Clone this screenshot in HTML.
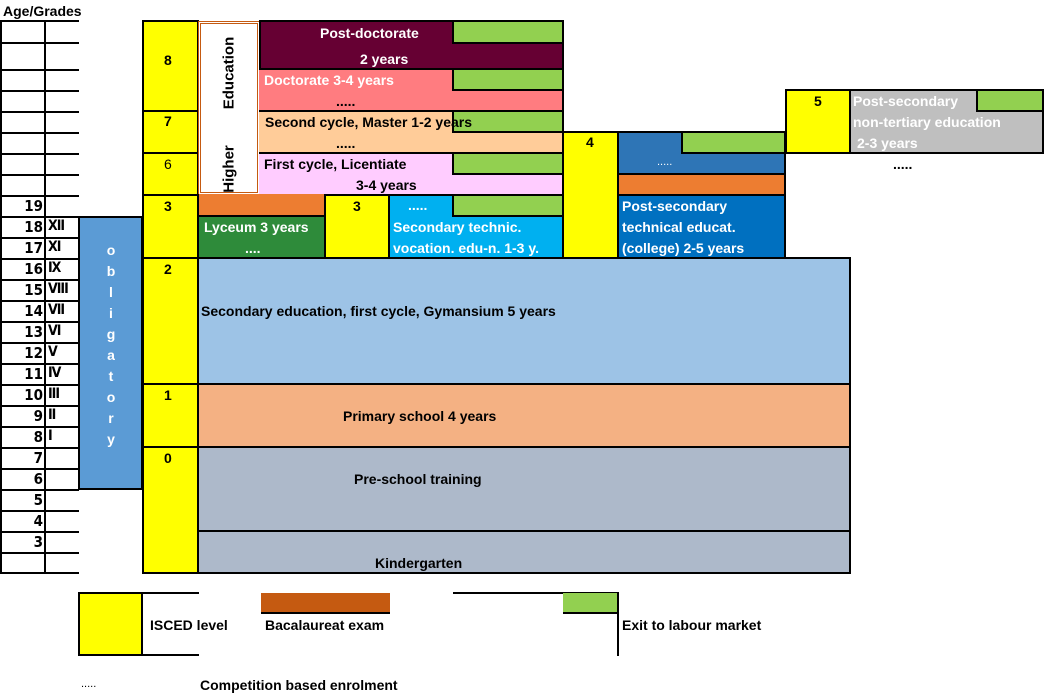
<!DOCTYPE html>
<html><head><meta charset="utf-8"><style>
body{margin:0;width:1044px;height:696px;position:relative;background:#fff;font-family:"Liberation Sans",Arial,sans-serif;font-weight:bold;font-size:14px;overflow:hidden}
.b{position:absolute;box-sizing:border-box;border:2px solid #000}
.t{position:absolute;white-space:nowrap}
.w{color:#fff}
.g{background:#92D050}
.y{background:#FFFF00}
.h{position:absolute;height:2px;background:#000}
.v{position:absolute;width:2px;background:#000}
.r{position:absolute;white-space:nowrap;transform:translate(-50%,-50%) rotate(-90deg);font-size:15px}
</style></head><body>
<div class="t" style="left:3px;top:3px;font-size:14px">Age/Grades</div>

<div class="v" style="left:0;top:20px;height:554px"></div>
<div class="v" style="left:44px;top:20px;height:554px"></div>
<div id="grid"></div>
<script>
var ys=[20,42,69,90,111,132,153,174,195,216,237,258,279,300,321,342,363,384,405,426,447,468,489,510,531,552,572];
var g='';
for(var i=0;i<ys.length;i++){g+='<div class="h" style="left:0;top:'+ys[i]+'px;width:79px"></div>';}
var ages={8:'19',9:'18',10:'17',11:'16',12:'15',13:'14',14:'13',15:'12',16:'11',17:'10',18:'9',19:'8',20:'7',21:'6',22:'5',23:'4',24:'3'};
var gr={9:'XII',10:'XI',11:'IX',12:'VIII',13:'VII',14:'VI',15:'V',16:'IV',17:'III',18:'II',19:'I'};
for(var k in ages){g+='<div class="t" style="right:1001px;top:'+(ys[k]+2)+'px;font-size:15px;font-family:\'DejaVu Sans Condensed\',sans-serif">'+ages[k]+'</div>';}
for(var k in gr){g+='<div class="t" style="left:48px;top:'+(ys[k]+2)+'px;font-size:14px;font-family:\'DejaVu Sans Condensed\',sans-serif;letter-spacing:-1px">'+gr[k]+'</div>';}
document.getElementById('grid').innerHTML=g;
</script>

<div class="b" style="left:78px;top:216px;width:65px;height:274px;background:#5B9BD5"></div>
<div class="t w" style="left:101px;top:240px;width:20px;text-align:center;line-height:21px">o<br>b<br>l<br>i<br>g<br>a<br>t<br>o<br>r<br>y</div>

<div class="b y" style="left:142px;top:20px;width:57px;height:92px"></div><div class="t" style="left:164px;top:52px">8</div>
<div class="b y" style="left:142px;top:110px;width:57px;height:44px"></div><div class="t" style="left:164px;top:113px">7</div>
<div class="b y" style="left:142px;top:152px;width:57px;height:44px"></div><div class="t" style="left:164px;top:156px;font-weight:normal">6</div>
<div class="b y" style="left:142px;top:194px;width:57px;height:65px"></div><div class="t" style="left:164px;top:198px">3</div>
<div class="b y" style="left:142px;top:257px;width:57px;height:128px"></div><div class="t" style="left:164px;top:261px">2</div>
<div class="b y" style="left:142px;top:383px;width:57px;height:65px"></div><div class="t" style="left:164px;top:387px">1</div>
<div class="b y" style="left:142px;top:446px;width:57px;height:128px"></div><div class="t" style="left:164px;top:450px">0</div>

<div style="position:absolute;left:198px;top:21px;width:62px;height:174px;box-sizing:border-box;border:3px double #C55A11;background:#fff"></div>
<div class="r" style="left:229px;top:73px">Education</div>
<div class="r" style="left:229px;top:169px">Higher</div>

<div class="b" style="left:259px;top:20px;width:305px;height:50px;background:#660033"></div>
<div class="b g" style="left:452px;top:20px;width:112px;height:24px"></div>
<div class="t w" style="left:320px;top:25px">Post-doctorate</div>
<div class="t w" style="left:360px;top:51px">2 years</div>

<div class="b" style="left:259px;top:68px;width:305px;height:44px;background:#FF7C80;border-left:none"></div>
<div class="b g" style="left:452px;top:68px;width:112px;height:23px"></div>
<div class="t w" style="left:264px;top:72px">Doctorate 3-4 years</div>
<div class="t" style="left:336px;top:93px">.....</div>

<div class="b" style="left:259px;top:110px;width:305px;height:44px;background:#FFCC99;border-left:none"></div>
<div class="b g" style="left:452px;top:110px;width:112px;height:23px"></div>
<div class="t" style="left:265px;top:114px">Second cycle, Master 1-2 years</div>
<div class="t" style="left:336px;top:135px">.....</div>

<div class="b" style="left:259px;top:152px;width:305px;height:44px;background:#FFCCFF;border-left:none"></div>
<div class="b g" style="left:452px;top:152px;width:112px;height:23px"></div>
<div class="t" style="left:264px;top:156px">First cycle, Licentiate</div>
<div class="t" style="left:356px;top:177px">3-4 years</div>

<div class="b" style="left:197px;top:194px;width:129px;height:23px;background:#ED7D31;border-top:none"></div>
<div class="b" style="left:197px;top:215px;width:129px;height:44px;background:#2E8B3A"></div>
<div class="t w" style="left:204px;top:219px">Lyceum 3 years</div>
<div class="t w" style="left:245px;top:240px">....</div>
<div class="b y" style="left:324px;top:194px;width:66px;height:65px"></div><div class="t" style="left:353px;top:198px">3</div>
<div class="b" style="left:388px;top:194px;width:176px;height:65px;background:#00B0F0"></div>
<div class="b g" style="left:452px;top:194px;width:112px;height:23px"></div>
<div class="t w" style="left:408px;top:197px">.....</div>
<div class="t w" style="left:393px;top:219px">Secondary technic.</div>
<div class="t w" style="left:393px;top:240px">vocation. edu-n. 1-3 y.</div>

<div class="b y" style="left:562px;top:131px;width:57px;height:128px"></div><div class="t" style="left:586px;top:134px">4</div>
<div class="b" style="left:617px;top:131px;width:169px;height:44px;background:#2E75B6"></div>
<div class="b g" style="left:681px;top:131px;width:105px;height:23px"></div>
<div class="t w" style="left:657px;top:156px;font-weight:normal;font-size:11px">.....</div>
<div class="b" style="left:617px;top:173px;width:169px;height:23px;background:#ED7D31"></div>
<div class="b" style="left:617px;top:194px;width:169px;height:65px;background:#0070C0"></div>
<div class="t w" style="left:622px;top:198px">Post-secondary</div>
<div class="t w" style="left:622px;top:219px">technical educat.</div>
<div class="t w" style="left:622px;top:240px">(college) 2-5 years</div>

<div class="b y" style="left:785px;top:89px;width:66px;height:65px"></div><div class="t" style="left:814px;top:93px">5</div>
<div class="b" style="left:849px;top:89px;width:195px;height:65px;background:#BFBFBF"></div>
<div class="b g" style="left:976px;top:89px;width:68px;height:23px"></div>
<div class="t w" style="left:853px;top:93px">Post-secondary</div>
<div class="t w" style="left:853px;top:114px">non-tertiary education</div>
<div class="t w" style="left:857px;top:135px">2-3 years</div>
<div class="t" style="left:893px;top:156px">.....</div>

<div class="b" style="left:197px;top:257px;width:654px;height:128px;background:#9DC3E6"></div>
<div class="t" style="left:201px;top:303px">Secondary education, first cycle, Gymansium 5 years</div>
<div class="b" style="left:197px;top:383px;width:654px;height:65px;background:#F4B183"></div>
<div class="t" style="left:343px;top:408px">Primary school 4 years</div>
<div class="b" style="left:197px;top:446px;width:654px;height:86px;background:#ADB9CA"></div>
<div class="t" style="left:354px;top:471px">Pre-school training</div>
<div class="b" style="left:197px;top:530px;width:654px;height:44px;background:#ADB9CA"></div>
<div class="t" style="left:375px;top:555px">Kindergarten</div>

<div class="b y" style="left:78px;top:592px;width:65px;height:64px"></div>
<div class="h" style="left:141px;top:592px;width:58px"></div>
<div class="h" style="left:141px;top:654px;width:58px"></div>
<div class="t" style="left:150px;top:617px">ISCED level</div>
<div style="position:absolute;left:261px;top:593px;width:129px;height:19px;background:#C55A11;border-bottom:2px solid #000"></div>
<div class="t" style="left:265px;top:617px">Bacalaureat exam</div>
<div class="h" style="left:453px;top:592px;width:165px"></div>
<div style="position:absolute;left:563px;top:593px;width:54px;height:19px;background:#92D050;border-bottom:2px solid #000"></div>
<div class="v" style="left:617px;top:592px;height:64px"></div>
<div class="t" style="left:622px;top:617px">Exit to labour market</div>
<div class="t" style="left:81px;top:678px;font-weight:normal;font-size:11px">.....</div>
<div class="t" style="left:200px;top:677px">Competition based enrolment</div>
</body></html>
